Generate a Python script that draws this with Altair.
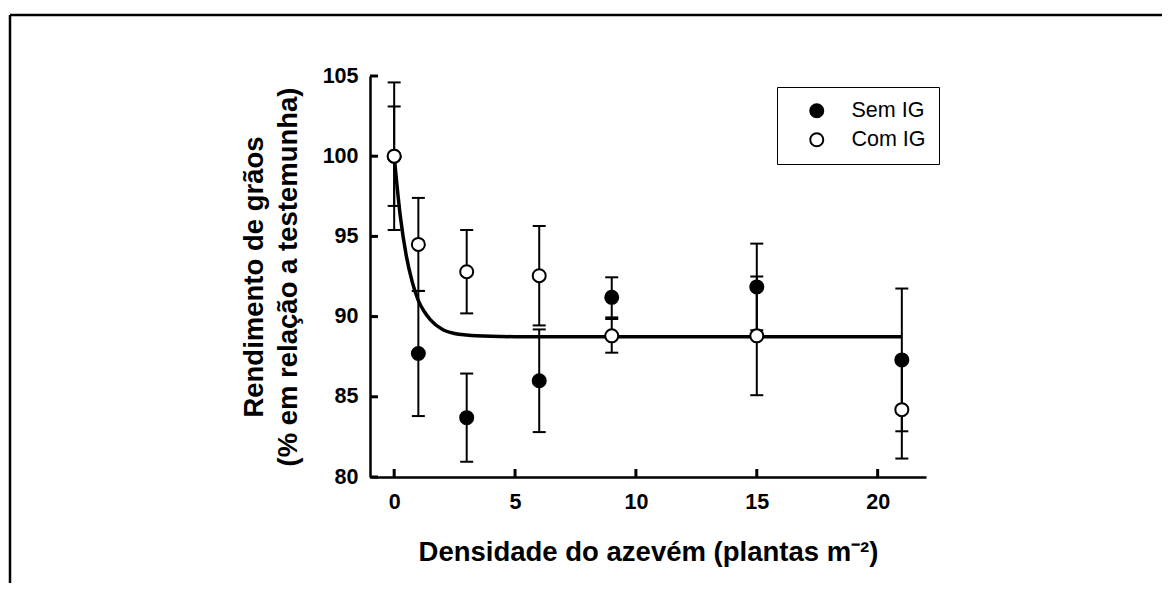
import altair as alt
import pandas as pd

# ---- data ----
series_names = ["Sem IG", "Com IG"]
x_density = [0, 1, 3, 6, 9, 15, 21]
sem_ig = [100.0, 87.7, 83.7, 86.0, 91.2, 91.85, 87.3]
sem_ig_err = [4.6, 3.9, 2.75, 3.2, 1.25, 2.7, 4.45]
com_ig = [100.0, 94.5, 92.8, 92.55, 88.8, 88.8, 84.2]
com_ig_err = [3.1, 2.9, 2.6, 3.1, 1.05, 3.7, 3.05]

# fitted curve
curve_x = [0, 0.25, 0.5, 0.75, 1.0, 1.25, 1.5, 2.0, 2.5, 3.0, 4.0, 5.0, 21.0]
curve_y = [100.0, 96.3, 93.8, 92.15, 91.0, 90.3, 89.8, 89.2, 88.95, 88.85, 88.77, 88.75, 88.75]

x_ticks = [0, 5, 10, 15, 20]
y_ticks = [80, 85, 90, 95, 100, 105]

FONT = "Liberation Sans"
W, H = 556, 401

rows = []
for name, ys_, es in [("Sem IG", sem_ig, sem_ig_err), ("Com IG", com_ig, com_ig_err)]:
    for i, (xv, yv, ev) in enumerate(zip(x_density, ys_, es)):
        rows.append({"series": name, "x": xv, "y": yv, "lo": yv - ev, "hi": yv + ev,
                     "ord": 0 if name == "Sem IG" else 1})
df = pd.DataFrame(rows)
curve_df = pd.DataFrame({"x": curve_x, "y": curve_y})
xt_df = pd.DataFrame({"v": x_ticks})
yt_df = pd.DataFrame({"v": y_ticks})
one = pd.DataFrame({"a": [0]})

xs = alt.Scale(domain=[-1, 22], nice=False, zero=False)
ys = alt.Scale(domain=[80, 105], nice=False, zero=False)

x_axis = alt.Axis(
    values=x_ticks, title="Densidade do azevém (plantas m⁻²)", grid=False, ticks=False, tickSize=0,
    labelFont=FONT, labelFontSize=21.5, labelFontWeight="bold", labelColor="black", labelPadding=14,
    titleFont=FONT, titleFontSize=27.5, titleFontWeight="bold", titleColor="black", titlePadding=26,
    domainColor="black", domainWidth=2.5,
)
y_axis = alt.Axis(
    values=y_ticks, title=["Rendimento de grãos", "(% em relação a testemunha)"], grid=False,
    ticks=False, tickSize=0,
    labelFont=FONT, labelFontSize=21.5, labelFontWeight="bold", labelColor="black", labelPadding=12,
    titleFont=FONT, titleFontSize=27.5, titleFontWeight="bold", titleColor="black", titlePadding=20,
    titleLineHeight=34, domainColor="black", domainWidth=2.5,
)


def X(field):
    return alt.X(field, scale=xs, axis=x_axis)


def Y(field):
    return alt.Y(field, scale=ys, axis=y_axis)


frame_left = alt.Chart(one).mark_rule(color="black", strokeWidth=2.5).encode(
    x=alt.value(-360), x2=alt.value(-360), y=alt.value(-61), y2=alt.value(520))
frame_top = alt.Chart(one).mark_rule(color="black", strokeWidth=2.5).encode(
    x=alt.value(-360), x2=alt.value(800), y=alt.value(-61), y2=alt.value(-61))

yticks = alt.Chart(yt_df).mark_rule(color="black", strokeWidth=3).encode(
    y=Y("v:Q"), x=alt.value(0), x2=alt.value(8))
xticks = alt.Chart(xt_df).mark_rule(color="black", strokeWidth=3).encode(
    x=X("v:Q"), y=alt.value(H), y2=alt.value(H - 8))

err = alt.Chart(df).mark_rule(color="black", strokeWidth=2).encode(
    x=X("x:Q"), y=Y("lo:Q"), y2="hi:Q")
cap_lo = alt.Chart(df).mark_tick(color="black", orient="horizontal", size=13, thickness=2, opacity=1).encode(
    x=X("x:Q"), y=Y("lo:Q"))
cap_hi = alt.Chart(df).mark_tick(color="black", orient="horizontal", size=13, thickness=2, opacity=1).encode(
    x=X("x:Q"), y=Y("hi:Q"))

curve = alt.Chart(curve_df).mark_line(color="black", strokeWidth=3.5, interpolate="monotone").encode(
    x=X("x:Q"), y=Y("y:Q"))

points = alt.Chart(df).mark_point(shape="circle", filled=True, stroke="black", strokeWidth=2,
                                  opacity=1, size=169).encode(
    x=X("x:Q"),
    y=Y("y:Q"),
    fill=alt.Fill("series:N", scale=alt.Scale(domain=series_names, range=["black", "white"]),
                  legend=alt.Legend(orient="none", legendX=407, legendY=11, title=None, padding=13,
                                    strokeColor="black", fillColor="white",
                                    labelFont=FONT, labelFontSize=21.5, labelColor="black",
                                    symbolType="circle", symbolSize=169, symbolStrokeColor="black",
                                    symbolStrokeWidth=2, symbolOffset=16, labelOffset=24, rowPadding=6)),
    order=alt.Order("ord:Q"),
)

chart = alt.layer(frame_left, frame_top, yticks, xticks, err, cap_lo, cap_hi, curve, points).properties(
    width=W, height=H,
    padding={"left": 362, "top": 68, "right": 236, "bottom": 106},
    autosize=alt.AutoSizeParams(type="none"),
    background="white",
).configure_view(stroke="transparent")

chart.save("out.html", embed_options={"renderer": "svg", "actions": False})
